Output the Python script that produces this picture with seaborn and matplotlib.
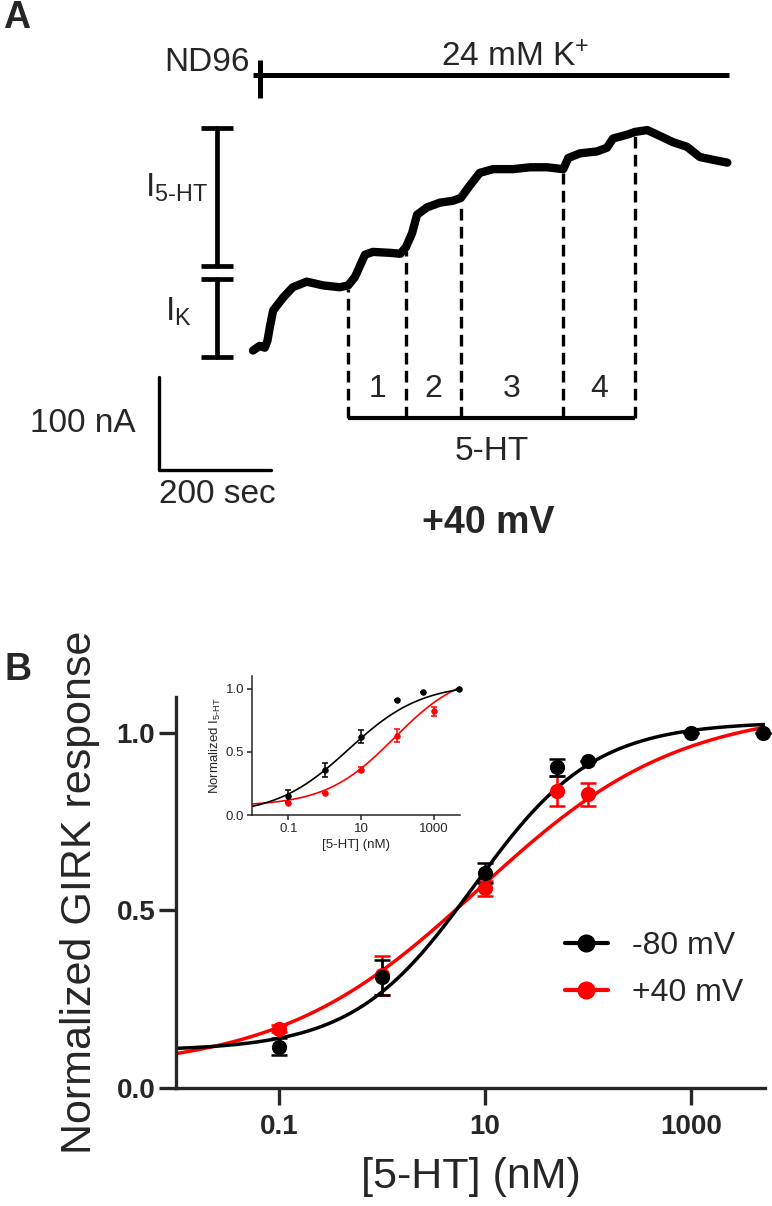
import numpy as np
import pandas as pd
import seaborn as sns
import matplotlib.pyplot as plt
from matplotlib.lines import Line2D
from matplotlib.ticker import NullLocator

sns.set_style('white')
plt.rcParams['font.family'] = ['Liberation Sans', 'DejaVu Sans']
plt.rcParams['mathtext.fontset'] = 'custom'
plt.rcParams['mathtext.rm'] = 'Liberation Sans'
plt.rcParams['mathtext.it'] = 'Liberation Sans:italic'
plt.rcParams['mathtext.bf'] = 'Liberation Sans:bold'

# ---- panel A: current trace at +40 mV (time in s, current in nA)
trace_t = [0, 12, 21, 26, 30, 36, 54, 71, 96, 125, 155, 170, 182, 200, 214,
           245, 263, 273, 284, 293, 311, 334, 357, 371, 388, 405, 429, 464,
           495, 525, 554, 563, 584, 614, 632, 643, 668, 682, 704, 722, 750,
           775, 798, 822, 847]
trace_i = [7, 12, 10, 18, 32, 50, 64, 75, 81, 77, 75, 77, 86, 110, 113,
           112, 111, 118, 133, 153, 161, 166, 168, 171, 185, 198, 202, 202,
           204, 204, 202, 214, 219, 221, 225, 235, 239, 242, 244, 239, 231,
           226, 215, 212, 209]
app_times = [170, 273, 371, 554, 682]      # 5-HT concentration switches
app_labels = ['1', '2', '3', '4']
k_bar = [0, 850]                           # 24 mM K+ application
i5ht_bar = [98, 246]
ik_bar = [0, 84]

# ---- panel B: dose response (normalized)
conc_blk = [0.1, 1, 10, 50, 100, 1000, 5000]
resp_blk = [0.116, 0.311, 0.605, 0.902, 0.919, 1.0, 1.0]
sem_blk = [0.024, 0.05, 0.028, 0.023, 0.0, 0.0, 0.0]
conc_red = [0.1, 1, 10, 50, 100]
resp_red = [0.167, 0.317, 0.562, 0.836, 0.826]
sem_red = [0.01, 0.054, 0.021, 0.042, 0.032]
# Hill fits: bottom, top, logEC50, slope
fit_blk = [0.105, 1.03, 0.892, 0.743]
fit_red = [0.05, 1.07, 0.942, 0.448]

# inset
ins_conc_blk = [0.1, 1, 10, 100, 500, 5000]
ins_resp_blk = [0.15, 0.357, 0.62, 0.913, 0.973, 1.0]
ins_sem_blk = [0.05, 0.055, 0.05, 0.0, 0.0, 0.0]
ins_conc_red = [0.1, 1, 10, 100, 1000]
ins_resp_red = [0.095, 0.175, 0.357, 0.627, 0.82]
ins_sem_red = [0.0, 0.0, 0.02, 0.05, 0.035]
ins_fit_blk = [0.0, 1.04, 0.657, 0.435]
ins_fit_red = [0.07, 1.15, 1.913, 0.458]


def hill(x, p):
    bottom, top, logec, slope = p
    return bottom + (top - bottom) / (1 + 10 ** ((logec - np.log10(x)) * slope))


fig = plt.figure(figsize=(7.72, 12.06), dpi=100)

# ================= panel A =================
sec_px = 200 / 112
na_px = 100 / 93
axA = fig.add_axes([0, 1 - 560 / 1206, 1, 560 / 1206])
axA.axis('off')
axA.set_xlim(-253 * sec_px, (772 - 253) * sec_px)
axA.set_ylim((357 - 560) * na_px, 357 * na_px)

sns.lineplot(x=trace_t, y=trace_i, ax=axA, color='black', lw=6,
             estimator=None, sort=False)

# solution bar
axA.plot(k_bar, [303, 303], color='black', lw=3.6, solid_capstyle='butt')
axA.plot([12.5, 12.5], [278, 319], color='black', lw=3.6, solid_capstyle='butt')
axA.text(-5, 317, 'ND96', ha='right', va='center', fontsize=24)
axA.text(468, 322, r'24 mM K$^{\mathrm{+}}$', ha='center', va='center', fontsize=24)

# amplitude bars
bx = -64
for lo, hi in [i5ht_bar, ik_bar]:
    axA.plot([bx, bx], [lo, hi], color='black', lw=3.4)
    for yy in (lo, hi):
        axA.plot([bx - 29, bx + 29], [yy, yy], color='black', lw=3.4,
                 solid_capstyle='butt')
axA.text(-136, 182, r'I$_{\mathrm{5\text{-}HT}}$', ha='center', va='center', fontsize=24)
axA.text(-133, 49, r'I$_{\mathrm{K}}$', ha='center', va='center', fontsize=24)

# 5-HT application
bar_level = -65.6
tops = np.interp(app_times, trace_t, trace_i)
for t, top in zip(app_times, tops):
    axA.plot([t, t], [bar_level, top - 4], color='black', lw=2.4,
             linestyle=(0, (3.5, 1.9)))
axA.plot([app_times[0], app_times[-1]], [bar_level, bar_level], color='black',
         lw=3, solid_capstyle='butt')
for lab, a, b in zip(app_labels, app_times[:-1], app_times[1:]):
    axA.text((a + b) / 2, -34, lab, ha='center', va='center', fontsize=23)
axA.text(426, -102, '5-HT', ha='center', va='center', fontsize=24)

# scale bar
sx, sy = -168, -121.5
axA.plot([sx, sx, sx + 200], [sy + 100, sy, sy], color='black', lw=2.4)
axA.text(-304, -71, '100 nA', ha='center', va='center', fontsize=24)
axA.text(-64, -148, '200 sec', ha='center', va='center', fontsize=24)
axA.text(420, -178, '+40 mV', ha='center', va='center', fontsize=27,
         fontweight='bold')

fig.text(17 / 772, 1 - 18 / 1206, 'A', ha='center', va='center', fontsize=27,
         fontweight='bold')
fig.text(18 / 772, 1 - 670 / 1206, 'B', ha='center', va='center', fontsize=27,
         fontweight='bold')

# ================= panel B =================
xmin, xmax = 1e-2, 10 ** 3.72
grid = np.logspace(-2, 3.72, 300)

axB = fig.add_axes([176 / 772, 1 - 1088 / 1206, 589 / 772, 391 / 1206])
axB.set_xscale('log')
for conc, resp, sem, fit, col in [(conc_red, resp_red, sem_red, fit_red, 'red'),
                                  (conc_blk, resp_blk, sem_blk, fit_blk, 'black')]:
    sns.lineplot(x=grid, y=hill(grid, fit), ax=axB, color=col, lw=2.5)
    axB.errorbar(conc, resp, yerr=sem, fmt='none', ecolor=col, elinewidth=1.8,
                 capsize=5.5, capthick=1.8, clip_on=False)
    sns.scatterplot(x=conc, y=resp, ax=axB, color=col, s=120, edgecolor=col,
                    linewidth=0, clip_on=False, zorder=4)

axB.set_xlim(xmin, xmax)
axB.set_ylim(0, 1.1)
axB.set_xticks([0.1, 10, 1000])
axB.set_xticklabels(['0.1', '10', '1000'])
axB.xaxis.set_minor_locator(NullLocator())
axB.set_yticks([0, 0.5, 1.0])
axB.set_yticklabels(['0.0', '0.5', '1.0'])
for s in ['top', 'right']:
    axB.spines[s].set_visible(False)
for s in ['left', 'bottom']:
    axB.spines[s].set_linewidth(2.4)
axB.tick_params(axis='both', direction='out', length=12, width=2.4,
                labelsize=20, left=True, bottom=True)
axB.tick_params(axis='x', pad=7)
axB.tick_params(axis='y', pad=3)
for lbl in axB.get_xticklabels() + axB.get_yticklabels():
    lbl.set_fontweight('bold')
axB.set_xlabel('[5-HT] (nM)', fontsize=31, labelpad=12)
axB.set_ylabel('Normalized GIRK response', fontsize=31, labelpad=12)

handles = [Line2D([], [], color='black', lw=3, marker='o', markersize=12),
           Line2D([], [], color='red', lw=3, marker='o', markersize=12)]
axB.legend(handles, ['-80 mV', '+40 mV'], loc='center left',
           bbox_to_anchor=(0.66, 0.303), frameon=False, fontsize=23,
           handlelength=1.35, handletextpad=0.75, labelspacing=0.55,
           borderpad=0, borderaxespad=0)

# inset
axI = fig.add_axes([252 / 772, 1 - 815 / 1206, 208 / 772, 139 / 1206])
axI.set_xscale('log')
for conc, resp, sem, fit, col in [(ins_conc_red, ins_resp_red, ins_sem_red, ins_fit_red, 'red'),
                                  (ins_conc_blk, ins_resp_blk, ins_sem_blk, ins_fit_blk, 'black')]:
    sns.lineplot(x=grid, y=hill(grid, fit), ax=axI, color=col, lw=1.2)
    axI.errorbar(conc, resp, yerr=sem, fmt='none', ecolor=col, elinewidth=1.1,
                 capsize=2.5, capthick=1.1, clip_on=False)
    sns.scatterplot(x=conc, y=resp, ax=axI, color=col, s=22, linewidth=0,
                    clip_on=False, zorder=4)
axI.set_xlim(xmin, xmax)
axI.set_ylim(0, 1.1)
axI.set_xticks([0.1, 10, 1000])
axI.set_xticklabels(['0.1', '10', '1000'])
axI.xaxis.set_minor_locator(NullLocator())
axI.set_yticks([0, 0.5, 1.0])
axI.set_yticklabels(['0.0', '0.5', '1.0'])
for s in ['top', 'right']:
    axI.spines[s].set_visible(False)
for s in ['left', 'bottom']:
    axI.spines[s].set_linewidth(1.1)
axI.tick_params(axis='both', direction='out', length=3.5, width=1.1,
                labelsize=9.5, pad=2, left=True, bottom=True)
axI.set_xlabel('[5-HT] (nM)', fontsize=9.5, labelpad=3)
axI.set_ylabel(r'Normalized I$_{\mathrm{5\text{-}HT}}$', fontsize=9.5, labelpad=2)

fig.savefig('out.png', dpi=100)
